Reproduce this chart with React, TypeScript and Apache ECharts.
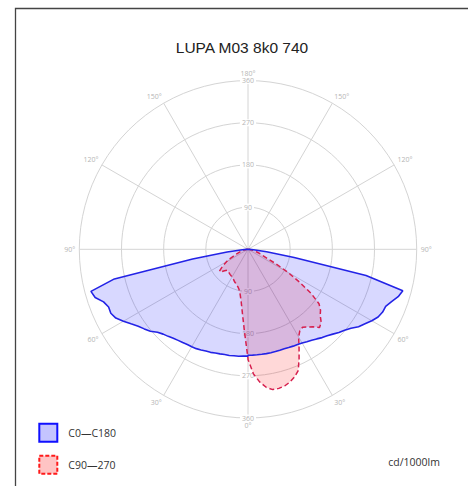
import React, { useEffect, useRef } from 'react';
import * as echarts from 'echarts';

// gamma angles (degrees from nadir) shared by all half-planes
const gammaAngles = [
  0, 2.5, 5, 7.5, 10, 12.5, 15, 17.5, 20, 22.5, 25, 27.5, 30, 32.5, 35, 37.5, 40, 42.5,
  45, 47.5, 50, 52.5, 55, 57.5, 60, 62.5, 65, 67.5, 70, 72.5, 75, 77.5, 80, 82.5, 85, 87.5, 90,
];

// C0 half-plane (right side), cd/1000lm
const c0Values = [
  226, 226, 226, 226, 226, 226, 226, 226, 226, 227, 228, 229, 231, 234, 237, 241, 246, 250,
  256, 263, 269, 277, 288, 296, 305, 313, 317, 318, 326, 336, 342, 258, 100, 40, 12, 3, 0,
];

// C180 half-plane (left side)
const c180Values = [
  228, 228, 229, 229, 230, 230, 231, 232, 234, 235, 237, 239, 240, 241, 243, 245, 248, 252,
  256, 262, 272, 279, 286, 296, 307, 318, 323, 322, 328, 342, 347, 292, 120, 45, 12, 3, 0,
];

// C90 half-plane (left side)
const c90Values = [
  233, 175, 137, 112, 97, 88, 83, 80, 77, 75, 72, 70, 68, 67, 66, 65, 64, 63,
  63, 68, 74, 77, 69, 61, 53, 44, 34, 27, 22, 18, 14, 11, 9, 6, 4, 2, 0,
];

// C270 half-plane (right side)
const c270Values = [
  235, 266, 284, 297, 304, 304, 302, 297, 290, 280, 258, 236, 216, 206, 203, 209, 216, 226,
  221, 209, 202, 191, 165, 130, 98, 68, 44, 34, 26, 21, 16, 12, 9, 6, 4, 2, 0,
];

const radiusMax = 360;
const radiusStep = 90;
const angleStep = 30;

const titleText = 'LUPA M03 8k0 740';
const unitText = 'cd/1000lm';
const nameC0C180 = 'C0—C180';
const nameC90C270 = 'C90—270';

function planePair(left: number[], right: number[]) {
  const pts: number[][] = [];
  for (let i = gammaAngles.length - 1; i >= 0; i--) pts.push([left[i], gammaAngles[i]]);
  for (let i = 0; i < gammaAngles.length; i++) pts.push([right[i], 360 - gammaAngles[i]]);
  return pts;
}

const gridColor = '#d4d4d4';
const labelColor = '#b5b5b5';
const labelFont = 'Open Sans';

export default function App() {
  const ref = useRef<HTMLDivElement>(null);

  useEffect(() => {
    if (!ref.current) return;
    const chart = echarts.init(ref.current, null, { renderer: 'svg' });
    const center = [248, 249.3];
    const radius = 168.7;

    const radiusLabel = {
      showMinLabel: false,
      margin: 0,
      align: 'center',
      verticalAlign: 'middle',
      fontSize: 7,
      color: labelColor,
      fontFamily: labelFont,
      backgroundColor: '#fff',
      padding: [0, 2],
    };

    chart.setOption({
      animation: false,
      polar: [
        { center, radius },
        { center, radius },
      ],
      angleAxis: [
        {
          polarIndex: 0,
          type: 'value',
          min: 0,
          max: 360,
          interval: angleStep,
          startAngle: 270,
          clockwise: true,
          axisLine: { show: false },
          axisTick: { show: false },
          splitLine: { show: true, lineStyle: { color: gridColor, width: 1 } },
          axisLabel: {
            margin: 4,
            fontSize: 7,
            color: labelColor,
            fontFamily: labelFont,
            formatter: (v: number) => (v <= 180 ? v : 360 - v) + '°',
          },
        },
        {
          polarIndex: 1,
          type: 'value',
          min: 0,
          max: 360,
          startAngle: 90,
          show: false,
        },
      ],
      radiusAxis: [
        {
          polarIndex: 0,
          type: 'value',
          min: 0,
          max: radiusMax,
          interval: radiusStep,
          axisLine: { show: false },
          axisTick: { show: false },
          splitLine: { show: true, lineStyle: { color: gridColor, width: 1 } },
          axisLabel: radiusLabel,
        },
        {
          polarIndex: 1,
          type: 'value',
          min: 0,
          max: radiusMax,
          interval: radiusStep,
          axisLine: { show: false },
          axisTick: { show: false },
          splitLine: { show: false },
          axisLabel: radiusLabel,
        },
      ],
      legend: {
        orient: 'vertical',
        left: 38.3,
        top: 422.7,
        padding: 0,
        itemWidth: 18,
        itemHeight: 18,
        itemGap: 12,
        icon: 'rect',
        selectedMode: false,
        textStyle: { fontSize: 10.5, color: '#333', fontFamily: labelFont, padding: [0, 0, 0, 6] },
        data: [
          { name: nameC0C180, itemStyle: { color: '#c4c4ff', borderColor: '#1010ff', borderWidth: 2 } },
          {
            name: nameC90C270,
            itemStyle: { color: '#ffc4c4', borderColor: '#ff1a1a', borderWidth: 2, borderType: [4, 2] },
          },
        ],
      },
      graphic: [
        {
          type: 'rect',
          shape: { x: 15.5, y: 8.5, width: 600, height: 600 },
          style: { fill: 'none', stroke: '#444', lineWidth: 1.3 },
          silent: true,
        },
        {
          type: 'text',
          x: 242,
          y: 47,
          style: {
            text: titleText,
            fontSize: 15.5,
            fontFamily: 'Liberation Sans, Arial, sans-serif',
            fill: '#222',
            align: 'center',
            verticalAlign: 'middle',
          },
        },
        {
          type: 'text',
          x: 440,
          y: 462.3,
          style: {
            text: unitText,
            fontSize: 10.5,
            fontFamily: labelFont,
            fill: '#333',
            align: 'right',
            verticalAlign: 'middle',
          },
        },
      ],
      series: [
        {
          name: nameC90C270,
          type: 'line',
          coordinateSystem: 'polar',
          polarIndex: 0,
          showSymbol: false,
          symbol: 'none',
          data: planePair(c90Values, c270Values),
          lineStyle: { color: '#d61f4d', width: 1.5, type: [5, 3] },
          itemStyle: { color: '#ff1a1a' },
          areaStyle: { color: 'rgba(255,0,0,0.22)' },
        },
        {
          name: nameC0C180,
          type: 'line',
          coordinateSystem: 'polar',
          polarIndex: 0,
          showSymbol: false,
          symbol: 'none',
          data: planePair(c180Values, c0Values),
          lineStyle: { color: '#2323e6', width: 1.6 },
          itemStyle: { color: '#1010ff' },
          areaStyle: { color: 'rgba(0,0,255,0.22)' },
        },
      ],
    });

    return () => chart.dispose();
  }, []);

  return (
    <div
      ref={ref}
      style={{ position: 'fixed', left: 0, top: 0, width: 468, height: 486, background: '#fff' }}
    />
  );
}
